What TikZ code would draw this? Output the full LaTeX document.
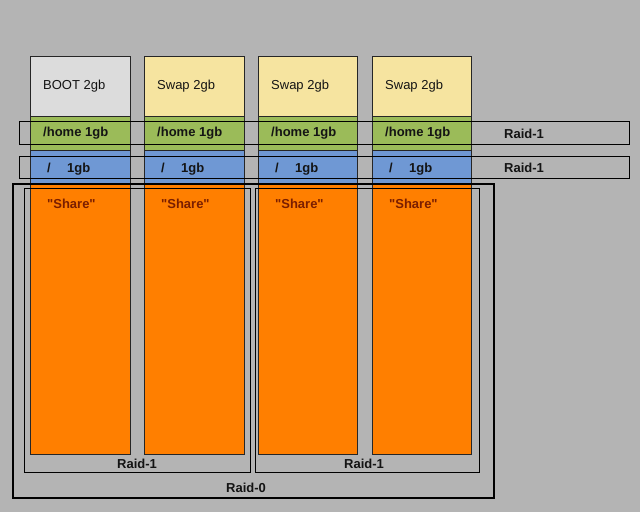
\documentclass[tikz,border=0pt]{standalone}
\usepackage{fontspec}
\setmainfont{Liberation Sans}
\newfontfamily\rawsans{Liberation Sans}
\definecolor{bgc}{RGB}{180,180,180}
\definecolor{bootc}{RGB}{220,220,220}
\definecolor{swapc}{RGB}{246,228,160}
\definecolor{homec}{RGB}{155,187,89}
\definecolor{rootc}{RGB}{111,152,212}
\definecolor{sharec}{RGB}{255,127,0}
\definecolor{sharetxt}{RGB}{122,30,0}
\definecolor{txt}{RGB}{20,20,20}
\begin{document}
\begin{tikzpicture}[x=1pt,y=-1pt,
  part/.style={draw=black!85,line width=0.7pt},
  raidbox/.style={draw=black,line width=0.9pt},
  raidzero/.style={draw=black,line width=2.4pt},
  lbl/.style={anchor=base west,inner sep=0pt,font=\fontsize{13}{15}\selectfont,text=txt},
  blbl/.style={lbl,font=\fontsize{13}{15}\selectfont\bfseries},
  clbl/.style={blbl,anchor=base},
  shtxt/.style={lbl,font=\rawsans\fontsize{13}{15}\selectfont\bfseries,text=sharetxt}]
\useasboundingbox (0,0) rectangle (640,512);
\fill[bgc] (0,0) rectangle (640,512);
% columns
\foreach \i/\x/\w/\top/\topname in {1/30/100/bootc/BOOT 2gb,2/144/100/swapc/Swap 2gb,3/258/99/swapc/Swap 2gb,4/372/99/swapc/Swap 2gb}{
  \draw[part,fill=\top] (\x,56) rectangle +(\w,60);
  \draw[part,fill=homec] (\x,116) rectangle +(\w,34);
  \draw[part,fill=rootc] (\x,150) rectangle +(\w,34);
  \draw[part,fill=sharec] (\x,184) rectangle +(\w,270);
  \node[lbl] (top\i) at (\x+13,89) {\topname};
  \node[blbl] (home\i) at (\x+13,136) {/home 1gb};
  \node[blbl] (slash\i) at (\x+17,172) {/};
  \node[blbl] (root\i) at (\x+37,172) {1gb};
  \node[shtxt] (share\i) at (\x+17,208) {"Share"};
}
% raid boxes
\draw[raidbox] (19,121) rectangle (629,144);
\node[blbl] (r1a) at (504,138) {Raid-1};
\draw[raidbox] (19,156) rectangle (629,178);
\node[blbl] (r1b) at (504,172) {Raid-1};
\draw[raidzero] (13,184) rectangle (494,498);
\draw[raidbox] (24,188) rectangle (250,472);
\draw[raidbox] (255,188) rectangle (479,472);
\node[clbl] (r1c) at (137,468) {Raid-1};
\node[clbl] (r1d) at (364,468) {Raid-1};
\node[clbl] (r0) at (246,492) {Raid-0};
\end{tikzpicture}
\end{document}
